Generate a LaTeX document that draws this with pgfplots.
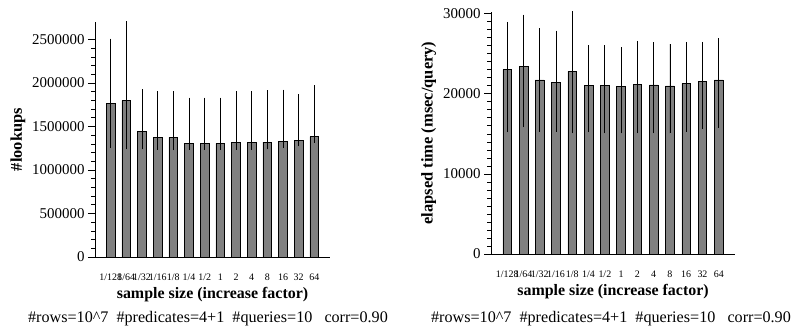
\documentclass[border=0pt]{standalone}
\usepackage{fontspec}
\setmainfont{Liberation Serif}
\usepackage{pgfplots}
\pgfplotsset{compat=1.18}
\usepackage{pgfplotstable}

\pgfplotstableread{
x y hi lo
0  1761600 2508000 1252000
1  1796000 2800000 1237000
2  1447000 1929000 1237000
3  1374600 1906000 1233000
4  1374600 1906000 1225000
5  1305700 1830000 1233000
6  1305700 1830000 1233000
7  1305700 1830000 1233000
8  1313600 1906000 1233000
9  1313600 1906000 1233000
10 1320700 1914000 1237000
11 1328600 1922000 1252000
12 1340000 1868000 1271000
13 1382500 1975000 1310000
}\lookups

\pgfplotstableread{
x y hi lo
0  23000 28957 15180
1  23372 29876 15800
2  21721 28175 15267
3  21386 27889 15267
4  22800 30600 15056
5  21063 26065 15180
6  21063 26065 15056
7  20890 25817 15056
8  21187 26600 15056
9  21100 26400 15056
10 20976 26189 15056
11 21262 26475 15267
12 21560 26475 15600
13 21721 26934 15763
}\elapsed

\pgfplotsset{
  mystyle/.style={
    scale only axis,
    anchor=south west,
    axis x line*=bottom,
    axis y line*=left,
    axis line style={black, line width=0.8pt},
    xmin=-1, xmax=14, ymin=0,
    xtick={0,...,13},
    xticklabels={1/128,1/64,1/32,1/16,1/8,1/4,1/2,1,2,4,8,16,32,64},
    x tick style={draw=none},
    xticklabel style={font=\fontsize{10}{12}\selectfont, yshift=-6bp},
    yticklabel style={font=\fontsize{15}{17}\selectfont},
    /pgf/number format/assume math mode=true,
    scaled y ticks=false,
    yticklabel={\pgfmathprintnumber[fixed,1000 sep={}]{\tick}},
    tick align=outside,
    major tick length=7bp,
    minor tick length=4bp,
    y tick style={black, line width=0.6pt},
    xlabel={\bfseries sample size (increase factor)},
    xlabel style={font=\fontsize{16}{18}\selectfont, yshift=0bp},
    ylabel style={font=\fontsize{16.5}{18}\selectfont},
    clip=true,
  },
  mybar/.style={
    ybar, bar width=8.7bp, fill=black!50, draw=black, line width=0.7pt,
    error bars/.cd, y dir=both, y explicit, error mark=none,
    error bar style={black, line width=0.8pt},
  },
}

\begin{document}
\begin{tikzpicture}[x=1bp,y=1bp]
\useasboundingbox (0,0) rectangle (801,329);

\begin{axis}[mystyle,
  at={(95bp,72bp)}, width=235bp, height=235bp,
  ymax=2700000,
  ytick={0,500000,1000000,1500000,2000000,2500000},
  minor y tick num=4,
  ylabel={\bfseries\#lookups},
]
\addplot[mybar] table[x=x, y=y,
  y error plus expr=\thisrow{hi}-\thisrow{y},
  y error minus expr=\thisrow{y}-\thisrow{lo}] {\lookups};
\end{axis}

\begin{axis}[mystyle,
  at={(491bp,75bp)}, width=244bp, height=242bp,
  ymax=30200,
  ytick={0,10000,20000,30000},
  minor y tick num=9,
  ylabel={\bfseries elapsed time (msec/query)},
]
\addplot[mybar] table[x=x, y=y,
  y error plus expr=\thisrow{hi}-\thisrow{y},
  y error minus expr=\thisrow{y}-\thisrow{lo}] {\elapsed};
\end{axis}

\node[font=\fontsize{16.2}{18}\selectfont] at (208,10) {\#rows=10\^{}7\ \ \#predicates=4+1\ \ \#queries=10\ \ \ corr=0.90};
\node[font=\fontsize{16.2}{18}\selectfont] at (611,10) {\#rows=10\^{}7\ \ \#predicates=4+1\ \ \#queries=10\ \ \ corr=0.90};
\end{tikzpicture}
\end{document}
